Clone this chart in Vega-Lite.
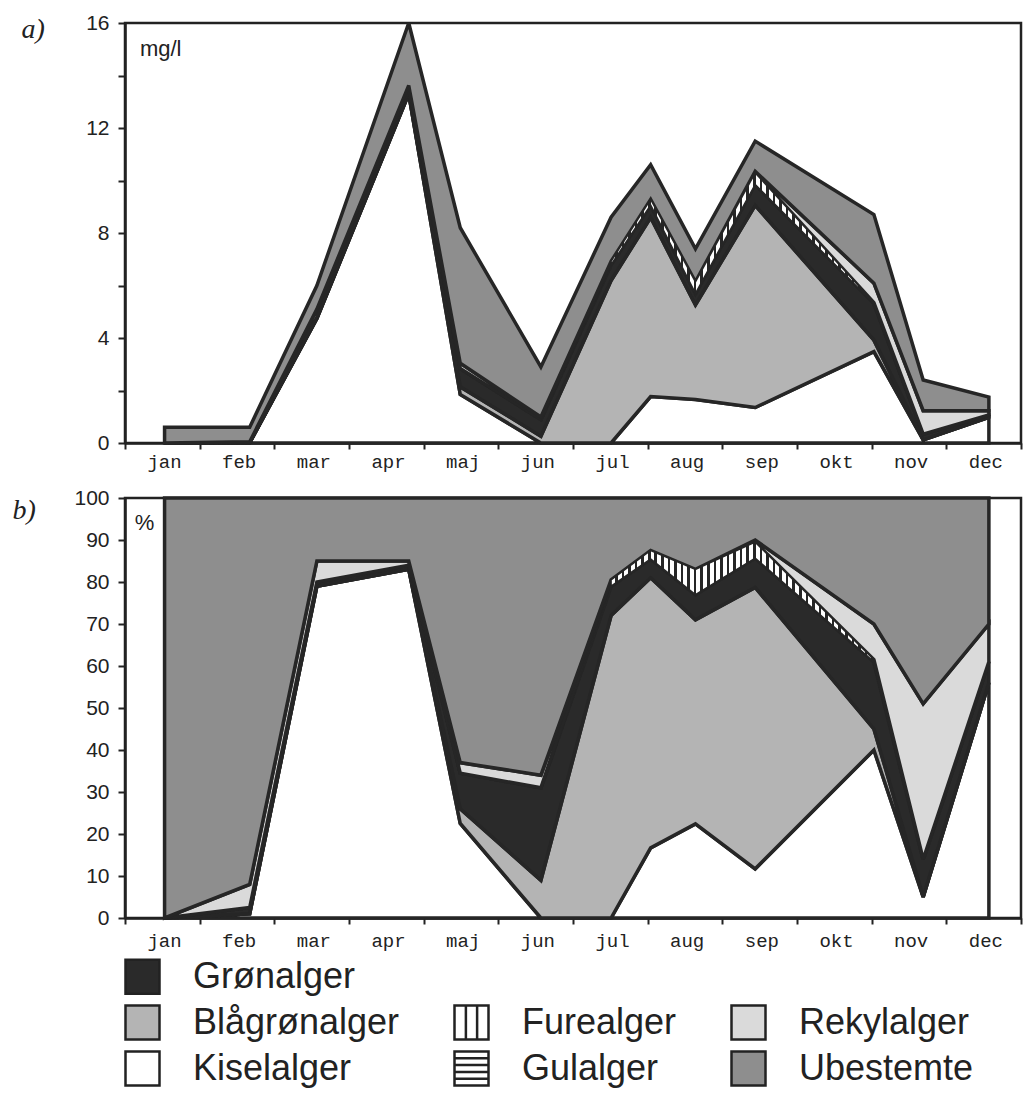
{
  "$schema": "https://vega.github.io/schema/vega-lite/v6.json",
  "background": "white",
  "padding": {"left": 10, "top": 10, "right": 0, "bottom": 0},
  "config": {
    "font": "Liberation Sans",
    "view": {"stroke": "#222222", "strokeWidth": 2.5},
    "axis": {
      "grid": false,
      "domainColor": "#222222",
      "domainWidth": 2.5,
      "tickColor": "#222222",
      "tickWidth": 2,
      "labelColor": "#222222"
    }
  },
  "datasets": {
    "algae": [
      {"panel": "a", "month": 0.53, "Kiselalger": 0, "Blågrønalger": 0, "Grønalger": 0, "Furealger": 0, "Rekylalger": 0, "Ubestemte": 0.6},
      {"panel": "a", "month": 1.67, "Kiselalger": 0.01, "Blågrønalger": 0, "Grønalger": 0.01, "Furealger": 0, "Rekylalger": 0.03, "Ubestemte": 0.55},
      {"panel": "a", "month": 2.57, "Kiselalger": 4.74, "Blågrønalger": 0, "Grønalger": 0.06, "Furealger": 0, "Rekylalger": 0.3, "Ubestemte": 0.9},
      {"panel": "a", "month": 3.8, "Kiselalger": 13.3, "Blågrønalger": 0, "Grønalger": 0.16, "Furealger": 0, "Rekylalger": 0.16, "Ubestemte": 2.38},
      {"panel": "a", "month": 4.49, "Kiselalger": 1.85, "Blågrønalger": 0.29, "Grønalger": 0.7, "Furealger": 0, "Rekylalger": 0.2, "Ubestemte": 5.16},
      {"panel": "a", "month": 5.57, "Kiselalger": 0, "Blågrønalger": 0.26, "Grønalger": 0.64, "Furealger": 0, "Rekylalger": 0.09, "Ubestemte": 1.91},
      {"panel": "a", "month": 6.51, "Kiselalger": 0, "Blågrønalger": 6.19, "Grønalger": 0.6, "Furealger": 0.13, "Rekylalger": 0, "Ubestemte": 1.68},
      {"panel": "a", "month": 7.04, "Kiselalger": 1.77, "Blågrønalger": 6.82, "Grønalger": 0.48, "Furealger": 0.21, "Rekylalger": 0, "Ubestemte": 1.32},
      {"panel": "a", "month": 7.64, "Kiselalger": 1.66, "Blågrønalger": 3.6, "Grønalger": 0.44, "Furealger": 0.44, "Rekylalger": 0, "Ubestemte": 1.26},
      {"panel": "a", "month": 8.44, "Kiselalger": 1.35, "Blågrønalger": 7.7, "Grønalger": 0.8, "Furealger": 0.44, "Rekylalger": 0.06, "Ubestemte": 1.15},
      {"panel": "a", "month": 10.03, "Kiselalger": 3.48, "Blågrønalger": 0.44, "Grønalger": 1.39, "Furealger": 0.04, "Rekylalger": 0.74, "Ubestemte": 2.61},
      {"panel": "a", "month": 10.69, "Kiselalger": 0.12, "Blågrønalger": 0, "Grønalger": 0.22, "Furealger": 0, "Rekylalger": 0.89, "Ubestemte": 1.17},
      {"panel": "a", "month": 11.57, "Kiselalger": 0.98, "Blågrønalger": 0, "Grønalger": 0.09, "Furealger": 0, "Rekylalger": 0.16, "Ubestemte": 0.52},
      {"panel": "b", "month": 0.53, "Kiselalger": 0, "Blågrønalger": 0, "Grønalger": 0, "Furealger": 0, "Rekylalger": 0, "Ubestemte": 100},
      {"panel": "b", "month": 1.67, "Kiselalger": 1, "Blågrønalger": 0, "Grønalger": 1.5, "Furealger": 0, "Rekylalger": 5.5, "Ubestemte": 92},
      {"panel": "b", "month": 2.57, "Kiselalger": 79, "Blågrønalger": 0, "Grønalger": 1, "Furealger": 0, "Rekylalger": 5, "Ubestemte": 15},
      {"panel": "b", "month": 3.8, "Kiselalger": 83, "Blågrønalger": 0, "Grønalger": 1, "Furealger": 0, "Rekylalger": 1, "Ubestemte": 15},
      {"panel": "b", "month": 4.49, "Kiselalger": 22.5, "Blågrønalger": 3.5, "Grønalger": 8.5, "Furealger": 0, "Rekylalger": 2.5, "Ubestemte": 63},
      {"panel": "b", "month": 5.57, "Kiselalger": 0, "Blågrønalger": 9, "Grønalger": 22, "Furealger": 0, "Rekylalger": 3, "Ubestemte": 66},
      {"panel": "b", "month": 6.51, "Kiselalger": 0, "Blågrønalger": 72, "Grønalger": 7, "Furealger": 1.5, "Rekylalger": 0, "Ubestemte": 19.5},
      {"panel": "b", "month": 7.04, "Kiselalger": 16.7, "Blågrønalger": 64.3, "Grønalger": 4.5, "Furealger": 2, "Rekylalger": 0, "Ubestemte": 12.5},
      {"panel": "b", "month": 7.64, "Kiselalger": 22.4, "Blågrønalger": 48.6, "Grønalger": 6, "Furealger": 6, "Rekylalger": 0, "Ubestemte": 17},
      {"panel": "b", "month": 8.44, "Kiselalger": 11.7, "Blågrønalger": 67, "Grønalger": 7, "Furealger": 3.8, "Rekylalger": 0.5, "Ubestemte": 10},
      {"panel": "b", "month": 10.03, "Kiselalger": 40, "Blågrønalger": 5, "Grønalger": 16, "Furealger": 0.5, "Rekylalger": 8.5, "Ubestemte": 30},
      {"panel": "b", "month": 10.69, "Kiselalger": 5, "Blågrønalger": 0, "Grønalger": 9, "Furealger": 0, "Rekylalger": 37, "Ubestemte": 49},
      {"panel": "b", "month": 11.57, "Kiselalger": 56, "Blågrønalger": 0, "Grønalger": 5, "Furealger": 0, "Rekylalger": 9, "Ubestemte": 30}
    ]
  },
  "bounds": "flush",
  "spacing": 55,
  "resolve": {"scale": {"fill": "independent", "x": "independent", "y": "independent"}, "legend": {"fill": "independent"}},
  "vconcat": [
    {
      "width": 896,
      "height": 420,
      "data": {"name": "algae"},
      "transform": [
        {"filter": "datum.panel === 'a'"},
        {"fold": ["Kiselalger", "Blågrønalger", "Grønalger", "Furealger", "Rekylalger", "Ubestemte"], "as": ["species", "value"]},
        {"calculate": "indexof(['Kiselalger','Blågrønalger','Grønalger','Gulalger','Furealger','Rekylalger','Ubestemte'], datum.species)", "as": "ord"},
        {"stack": "value", "groupby": ["month"], "sort": [{"field": "ord", "order": "ascending"}], "as": ["v0", "v1"]}
      ],
      "layer": [
        {
          "mark": {"type": "area", "stroke": "#262626", "strokeWidth": 3.5, "strokeJoin": "miter", "strokeMiterLimit": 3, "fillOpacity": 1},
          "encoding": {
            "x": {
              "field": "month", "type": "quantitative",
              "scale": {"domain": [0, 12], "nice": false, "zero": false},
              "axis": {
                "values": [0, 1, 2, 3, 4, 5, 6, 7, 8, 9, 10, 11, 12],
                "labelExpr": "['jan','feb','mar','apr','maj','jun','jul','aug','sep','okt','nov','dec',''][datum.value]",
                "labelOffset": 39, "labelFlush": false, "labelOverlap": false,
                "labelFont": "Liberation Mono", "labelFontSize": 19, "labelPadding": 3,
                "tickSize": 6, "title": null
              }
            },
            "y": {
              "field": "v1", "type": "quantitative", "stack": null,
              "scale": {"domain": [0, 16], "nice": false},
              "axis": {
                "values": [0, 1, 2, 3, 4, 5, 6, 7, 8, 9, 10, 11, 12, 13, 14, 15, 16],
                "labelExpr": "datum.value % 4 === 0 ? datum.label : ''",
                "labelFont": "Liberation Sans", "labelFontSize": 21, "labelPadding": 9,
                "tickSize": 7,
                "title": "a)", "titleAngle": 0, "titleAlign": "left", "titleBaseline": "middle",
                "titleX": -104, "titleY": 6, "titleFont": "Liberation Serif", "titleFontStyle": "italic",
                "titleFontWeight": "normal", "titleFontSize": 28, "titleColor": "#222222"
              }
            },
            "y2": {"field": "v0"},
            "fill": {
              "field": "species", "type": "nominal",
              "scale": {
                "domain": ["Grønalger", "Blågrønalger", "Kiselalger", " ", "Furealger", "Gulalger", "  ", "Rekylalger", "Ubestemte"],
                "range": ["#2a2a2a", "#b4b4b4", "#ffffff", "transparent", "#ffffff", "#ffffff", "transparent", "#dadada", "#8e8e8e"]
              },
              "legend": null
            }
          }
        },
        {
          "transform": [{"filter": "datum.species === 'Furealger' && datum.month > 6 && datum.month < 10.5"}],
          "mark": {
            "type": "area", "stroke": "#262626", "strokeWidth": 1.5,
            "fill": {"gradient": "linear", "x1": 0, "x2": 1, "y1": 0, "y2": 0, "stops": [
              {"offset": 0, "color": "#ffffff"},
              {"offset": 0.015, "color": "#ffffff"}, {"offset": 0.015, "color": "#262626"}, {"offset": 0.025, "color": "#262626"}, {"offset": 0.025, "color": "#ffffff"},
              {"offset": 0.04, "color": "#ffffff"}, {"offset": 0.04, "color": "#262626"}, {"offset": 0.05, "color": "#262626"}, {"offset": 0.05, "color": "#ffffff"},
              {"offset": 0.065, "color": "#ffffff"}, {"offset": 0.065, "color": "#262626"}, {"offset": 0.075, "color": "#262626"}, {"offset": 0.075, "color": "#ffffff"},
              {"offset": 0.09, "color": "#ffffff"}, {"offset": 0.09, "color": "#262626"}, {"offset": 0.1, "color": "#262626"}, {"offset": 0.1, "color": "#ffffff"},
              {"offset": 0.115, "color": "#ffffff"}, {"offset": 0.115, "color": "#262626"}, {"offset": 0.125, "color": "#262626"}, {"offset": 0.125, "color": "#ffffff"},
              {"offset": 0.14, "color": "#ffffff"}, {"offset": 0.14, "color": "#262626"}, {"offset": 0.15, "color": "#262626"}, {"offset": 0.15, "color": "#ffffff"},
              {"offset": 0.165, "color": "#ffffff"}, {"offset": 0.165, "color": "#262626"}, {"offset": 0.175, "color": "#262626"}, {"offset": 0.175, "color": "#ffffff"},
              {"offset": 0.19, "color": "#ffffff"}, {"offset": 0.19, "color": "#262626"}, {"offset": 0.2, "color": "#262626"}, {"offset": 0.2, "color": "#ffffff"},
              {"offset": 0.215, "color": "#ffffff"}, {"offset": 0.215, "color": "#262626"}, {"offset": 0.225, "color": "#262626"}, {"offset": 0.225, "color": "#ffffff"},
              {"offset": 0.24, "color": "#ffffff"}, {"offset": 0.24, "color": "#262626"}, {"offset": 0.25, "color": "#262626"}, {"offset": 0.25, "color": "#ffffff"},
              {"offset": 0.265, "color": "#ffffff"}, {"offset": 0.265, "color": "#262626"}, {"offset": 0.275, "color": "#262626"}, {"offset": 0.275, "color": "#ffffff"},
              {"offset": 0.29, "color": "#ffffff"}, {"offset": 0.29, "color": "#262626"}, {"offset": 0.3, "color": "#262626"}, {"offset": 0.3, "color": "#ffffff"},
              {"offset": 0.315, "color": "#ffffff"}, {"offset": 0.315, "color": "#262626"}, {"offset": 0.325, "color": "#262626"}, {"offset": 0.325, "color": "#ffffff"},
              {"offset": 0.34, "color": "#ffffff"}, {"offset": 0.34, "color": "#262626"}, {"offset": 0.35, "color": "#262626"}, {"offset": 0.35, "color": "#ffffff"},
              {"offset": 0.365, "color": "#ffffff"}, {"offset": 0.365, "color": "#262626"}, {"offset": 0.375, "color": "#262626"}, {"offset": 0.375, "color": "#ffffff"},
              {"offset": 0.39, "color": "#ffffff"}, {"offset": 0.39, "color": "#262626"}, {"offset": 0.4, "color": "#262626"}, {"offset": 0.4, "color": "#ffffff"},
              {"offset": 0.415, "color": "#ffffff"}, {"offset": 0.415, "color": "#262626"}, {"offset": 0.425, "color": "#262626"}, {"offset": 0.425, "color": "#ffffff"},
              {"offset": 0.44, "color": "#ffffff"}, {"offset": 0.44, "color": "#262626"}, {"offset": 0.45, "color": "#262626"}, {"offset": 0.45, "color": "#ffffff"},
              {"offset": 0.465, "color": "#ffffff"}, {"offset": 0.465, "color": "#262626"}, {"offset": 0.475, "color": "#262626"}, {"offset": 0.475, "color": "#ffffff"},
              {"offset": 0.49, "color": "#ffffff"}, {"offset": 0.49, "color": "#262626"}, {"offset": 0.5, "color": "#262626"}, {"offset": 0.5, "color": "#ffffff"},
              {"offset": 0.515, "color": "#ffffff"}, {"offset": 0.515, "color": "#262626"}, {"offset": 0.525, "color": "#262626"}, {"offset": 0.525, "color": "#ffffff"},
              {"offset": 0.54, "color": "#ffffff"}, {"offset": 0.54, "color": "#262626"}, {"offset": 0.55, "color": "#262626"}, {"offset": 0.55, "color": "#ffffff"},
              {"offset": 0.565, "color": "#ffffff"}, {"offset": 0.565, "color": "#262626"}, {"offset": 0.575, "color": "#262626"}, {"offset": 0.575, "color": "#ffffff"},
              {"offset": 0.59, "color": "#ffffff"}, {"offset": 0.59, "color": "#262626"}, {"offset": 0.6, "color": "#262626"}, {"offset": 0.6, "color": "#ffffff"},
              {"offset": 0.615, "color": "#ffffff"}, {"offset": 0.615, "color": "#262626"}, {"offset": 0.625, "color": "#262626"}, {"offset": 0.625, "color": "#ffffff"},
              {"offset": 0.64, "color": "#ffffff"}, {"offset": 0.64, "color": "#262626"}, {"offset": 0.65, "color": "#262626"}, {"offset": 0.65, "color": "#ffffff"},
              {"offset": 0.665, "color": "#ffffff"}, {"offset": 0.665, "color": "#262626"}, {"offset": 0.675, "color": "#262626"}, {"offset": 0.675, "color": "#ffffff"},
              {"offset": 0.69, "color": "#ffffff"}, {"offset": 0.69, "color": "#262626"}, {"offset": 0.7, "color": "#262626"}, {"offset": 0.7, "color": "#ffffff"},
              {"offset": 0.715, "color": "#ffffff"}, {"offset": 0.715, "color": "#262626"}, {"offset": 0.725, "color": "#262626"}, {"offset": 0.725, "color": "#ffffff"},
              {"offset": 0.74, "color": "#ffffff"}, {"offset": 0.74, "color": "#262626"}, {"offset": 0.75, "color": "#262626"}, {"offset": 0.75, "color": "#ffffff"},
              {"offset": 0.765, "color": "#ffffff"}, {"offset": 0.765, "color": "#262626"}, {"offset": 0.775, "color": "#262626"}, {"offset": 0.775, "color": "#ffffff"},
              {"offset": 0.79, "color": "#ffffff"}, {"offset": 0.79, "color": "#262626"}, {"offset": 0.8, "color": "#262626"}, {"offset": 0.8, "color": "#ffffff"},
              {"offset": 0.815, "color": "#ffffff"}, {"offset": 0.815, "color": "#262626"}, {"offset": 0.825, "color": "#262626"}, {"offset": 0.825, "color": "#ffffff"},
              {"offset": 0.84, "color": "#ffffff"}, {"offset": 0.84, "color": "#262626"}, {"offset": 0.85, "color": "#262626"}, {"offset": 0.85, "color": "#ffffff"},
              {"offset": 0.865, "color": "#ffffff"}, {"offset": 0.865, "color": "#262626"}, {"offset": 0.875, "color": "#262626"}, {"offset": 0.875, "color": "#ffffff"},
              {"offset": 0.89, "color": "#ffffff"}, {"offset": 0.89, "color": "#262626"}, {"offset": 0.9, "color": "#262626"}, {"offset": 0.9, "color": "#ffffff"},
              {"offset": 0.915, "color": "#ffffff"}, {"offset": 0.915, "color": "#262626"}, {"offset": 0.925, "color": "#262626"}, {"offset": 0.925, "color": "#ffffff"},
              {"offset": 0.94, "color": "#ffffff"}, {"offset": 0.94, "color": "#262626"}, {"offset": 0.95, "color": "#262626"}, {"offset": 0.95, "color": "#ffffff"},
              {"offset": 0.965, "color": "#ffffff"}, {"offset": 0.965, "color": "#262626"}, {"offset": 0.975, "color": "#262626"}, {"offset": 0.975, "color": "#ffffff"},
              {"offset": 0.99, "color": "#ffffff"}, {"offset": 0.99, "color": "#262626"}, {"offset": 1, "color": "#262626"}
            ]}
          },
          "encoding": {
            "x": {"field": "month", "type": "quantitative"},
            "y": {"field": "v1", "type": "quantitative", "stack": null},
            "y2": {"field": "v0"}
          }
        },
        {
          "data": {"values": [{}]},
          "transform": [],
          "mark": {"type": "text", "align": "left", "baseline": "middle", "font": "Liberation Sans", "fontSize": 22, "color": "#222222"},
          "encoding": {
            "x": {"datum": 0.2, "type": "quantitative"},
            "y": {"datum": 15, "type": "quantitative"},
            "text": {"value": "mg/l"}
          }
        }
      ]
    },
    {
      "width": 896,
      "height": 420,
      "data": {"name": "algae"},
      "transform": [
        {"filter": "datum.panel === 'b'"},
        {"fold": ["Kiselalger", "Blågrønalger", "Grønalger", "Furealger", "Rekylalger", "Ubestemte"], "as": ["species", "value"]},
        {"calculate": "indexof(['Kiselalger','Blågrønalger','Grønalger','Gulalger','Furealger','Rekylalger','Ubestemte'], datum.species)", "as": "ord"},
        {"stack": "value", "groupby": ["month"], "sort": [{"field": "ord", "order": "ascending"}], "as": ["v0", "v1"]}
      ],
      "layer": [
        {
          "mark": {"type": "area", "stroke": "#262626", "strokeWidth": 3.5, "strokeJoin": "miter", "strokeMiterLimit": 3, "fillOpacity": 1},
          "encoding": {
            "x": {
              "field": "month", "type": "quantitative",
              "scale": {"domain": [0, 12], "nice": false, "zero": false},
              "axis": {
                "values": [0, 1, 2, 3, 4, 5, 6, 7, 8, 9, 10, 11, 12],
                "labelExpr": "['jan','feb','mar','apr','maj','jun','jul','aug','sep','okt','nov','dec',''][datum.value]",
                "labelOffset": 39, "labelFlush": false, "labelOverlap": false,
                "labelFont": "Liberation Mono", "labelFontSize": 19, "labelPadding": 7,
                "tickSize": 6, "title": null
              }
            },
            "y": {
              "field": "v1", "type": "quantitative", "stack": null,
              "scale": {"domain": [0, 100], "nice": false},
              "axis": {
                "values": [0, 5, 10, 15, 20, 25, 30, 35, 40, 45, 50, 55, 60, 65, 70, 75, 80, 85, 90, 95, 100],
                "labelExpr": "datum.value % 10 === 0 ? datum.label : ''",
                "labelFont": "Liberation Sans", "labelFontSize": 21, "labelPadding": 9,
                "tickSize": 7,
                "title": "b)", "titleAngle": 0, "titleAlign": "left", "titleBaseline": "middle",
                "titleX": -113, "titleY": 12, "titleFont": "Liberation Serif", "titleFontStyle": "italic",
                "titleFontWeight": "normal", "titleFontSize": 28, "titleColor": "#222222"
              }
            },
            "y2": {"field": "v0"},
            "fill": {
              "field": "species", "type": "nominal",
              "scale": {
                "domain": ["Grønalger", "Blågrønalger", "Kiselalger", " ", "Furealger", "Gulalger", "  ", "Rekylalger", "Ubestemte"],
                "range": ["#2a2a2a", "#b4b4b4", "#ffffff", "transparent", "#ffffff", "#ffffff", "transparent", "#dadada", "#8e8e8e"]
              },
              "legend": {
                "orient": "none", "legendX": -1, "legendY": 460, "title": null,
                "columns": 3, "symbolType": "square", "symbolSize": 1156,
                "symbolStrokeColor": "#222222", "symbolStrokeWidth": 2.5, "symbolOpacity": 1,
                "labelFont": "Liberation Sans", "labelFontSize": 36, "labelColor": "#222222",
                "labelOffset": 32, "labelLimit": 500, "rowPadding": 1, "columnPadding": 49,
                "encode": {
                  "symbols": {
                    "update": {
                      "shape": {"signal": "datum.value === 'Furealger' ? 'M-1,-1H1V1H-1Z M-0.33,-1V1 M0.33,-1V1' : datum.value === 'Gulalger' ? 'M-1,-1H1V1H-1Z M-1,-0.6H1 M-1,-0.2H1 M-1,0.2H1 M-1,0.6H1' : 'square'"},
                      "opacity": {"signal": "trim(datum.value) === '' ? 0 : 1"}
                    }
                  }
                }
              }
            }
          }
        },
        {
          "transform": [{"filter": "datum.species === 'Furealger' && datum.month > 6 && datum.month < 10.5"}],
          "mark": {
            "type": "area", "stroke": "#262626", "strokeWidth": 1.5,
            "fill": {"gradient": "linear", "x1": 0, "x2": 1, "y1": 0, "y2": 0, "stops": [
              {"offset": 0, "color": "#ffffff"},
              {"offset": 0.015, "color": "#ffffff"}, {"offset": 0.015, "color": "#262626"}, {"offset": 0.025, "color": "#262626"}, {"offset": 0.025, "color": "#ffffff"},
              {"offset": 0.04, "color": "#ffffff"}, {"offset": 0.04, "color": "#262626"}, {"offset": 0.05, "color": "#262626"}, {"offset": 0.05, "color": "#ffffff"},
              {"offset": 0.065, "color": "#ffffff"}, {"offset": 0.065, "color": "#262626"}, {"offset": 0.075, "color": "#262626"}, {"offset": 0.075, "color": "#ffffff"},
              {"offset": 0.09, "color": "#ffffff"}, {"offset": 0.09, "color": "#262626"}, {"offset": 0.1, "color": "#262626"}, {"offset": 0.1, "color": "#ffffff"},
              {"offset": 0.115, "color": "#ffffff"}, {"offset": 0.115, "color": "#262626"}, {"offset": 0.125, "color": "#262626"}, {"offset": 0.125, "color": "#ffffff"},
              {"offset": 0.14, "color": "#ffffff"}, {"offset": 0.14, "color": "#262626"}, {"offset": 0.15, "color": "#262626"}, {"offset": 0.15, "color": "#ffffff"},
              {"offset": 0.165, "color": "#ffffff"}, {"offset": 0.165, "color": "#262626"}, {"offset": 0.175, "color": "#262626"}, {"offset": 0.175, "color": "#ffffff"},
              {"offset": 0.19, "color": "#ffffff"}, {"offset": 0.19, "color": "#262626"}, {"offset": 0.2, "color": "#262626"}, {"offset": 0.2, "color": "#ffffff"},
              {"offset": 0.215, "color": "#ffffff"}, {"offset": 0.215, "color": "#262626"}, {"offset": 0.225, "color": "#262626"}, {"offset": 0.225, "color": "#ffffff"},
              {"offset": 0.24, "color": "#ffffff"}, {"offset": 0.24, "color": "#262626"}, {"offset": 0.25, "color": "#262626"}, {"offset": 0.25, "color": "#ffffff"},
              {"offset": 0.265, "color": "#ffffff"}, {"offset": 0.265, "color": "#262626"}, {"offset": 0.275, "color": "#262626"}, {"offset": 0.275, "color": "#ffffff"},
              {"offset": 0.29, "color": "#ffffff"}, {"offset": 0.29, "color": "#262626"}, {"offset": 0.3, "color": "#262626"}, {"offset": 0.3, "color": "#ffffff"},
              {"offset": 0.315, "color": "#ffffff"}, {"offset": 0.315, "color": "#262626"}, {"offset": 0.325, "color": "#262626"}, {"offset": 0.325, "color": "#ffffff"},
              {"offset": 0.34, "color": "#ffffff"}, {"offset": 0.34, "color": "#262626"}, {"offset": 0.35, "color": "#262626"}, {"offset": 0.35, "color": "#ffffff"},
              {"offset": 0.365, "color": "#ffffff"}, {"offset": 0.365, "color": "#262626"}, {"offset": 0.375, "color": "#262626"}, {"offset": 0.375, "color": "#ffffff"},
              {"offset": 0.39, "color": "#ffffff"}, {"offset": 0.39, "color": "#262626"}, {"offset": 0.4, "color": "#262626"}, {"offset": 0.4, "color": "#ffffff"},
              {"offset": 0.415, "color": "#ffffff"}, {"offset": 0.415, "color": "#262626"}, {"offset": 0.425, "color": "#262626"}, {"offset": 0.425, "color": "#ffffff"},
              {"offset": 0.44, "color": "#ffffff"}, {"offset": 0.44, "color": "#262626"}, {"offset": 0.45, "color": "#262626"}, {"offset": 0.45, "color": "#ffffff"},
              {"offset": 0.465, "color": "#ffffff"}, {"offset": 0.465, "color": "#262626"}, {"offset": 0.475, "color": "#262626"}, {"offset": 0.475, "color": "#ffffff"},
              {"offset": 0.49, "color": "#ffffff"}, {"offset": 0.49, "color": "#262626"}, {"offset": 0.5, "color": "#262626"}, {"offset": 0.5, "color": "#ffffff"},
              {"offset": 0.515, "color": "#ffffff"}, {"offset": 0.515, "color": "#262626"}, {"offset": 0.525, "color": "#262626"}, {"offset": 0.525, "color": "#ffffff"},
              {"offset": 0.54, "color": "#ffffff"}, {"offset": 0.54, "color": "#262626"}, {"offset": 0.55, "color": "#262626"}, {"offset": 0.55, "color": "#ffffff"},
              {"offset": 0.565, "color": "#ffffff"}, {"offset": 0.565, "color": "#262626"}, {"offset": 0.575, "color": "#262626"}, {"offset": 0.575, "color": "#ffffff"},
              {"offset": 0.59, "color": "#ffffff"}, {"offset": 0.59, "color": "#262626"}, {"offset": 0.6, "color": "#262626"}, {"offset": 0.6, "color": "#ffffff"},
              {"offset": 0.615, "color": "#ffffff"}, {"offset": 0.615, "color": "#262626"}, {"offset": 0.625, "color": "#262626"}, {"offset": 0.625, "color": "#ffffff"},
              {"offset": 0.64, "color": "#ffffff"}, {"offset": 0.64, "color": "#262626"}, {"offset": 0.65, "color": "#262626"}, {"offset": 0.65, "color": "#ffffff"},
              {"offset": 0.665, "color": "#ffffff"}, {"offset": 0.665, "color": "#262626"}, {"offset": 0.675, "color": "#262626"}, {"offset": 0.675, "color": "#ffffff"},
              {"offset": 0.69, "color": "#ffffff"}, {"offset": 0.69, "color": "#262626"}, {"offset": 0.7, "color": "#262626"}, {"offset": 0.7, "color": "#ffffff"},
              {"offset": 0.715, "color": "#ffffff"}, {"offset": 0.715, "color": "#262626"}, {"offset": 0.725, "color": "#262626"}, {"offset": 0.725, "color": "#ffffff"},
              {"offset": 0.74, "color": "#ffffff"}, {"offset": 0.74, "color": "#262626"}, {"offset": 0.75, "color": "#262626"}, {"offset": 0.75, "color": "#ffffff"},
              {"offset": 0.765, "color": "#ffffff"}, {"offset": 0.765, "color": "#262626"}, {"offset": 0.775, "color": "#262626"}, {"offset": 0.775, "color": "#ffffff"},
              {"offset": 0.79, "color": "#ffffff"}, {"offset": 0.79, "color": "#262626"}, {"offset": 0.8, "color": "#262626"}, {"offset": 0.8, "color": "#ffffff"},
              {"offset": 0.815, "color": "#ffffff"}, {"offset": 0.815, "color": "#262626"}, {"offset": 0.825, "color": "#262626"}, {"offset": 0.825, "color": "#ffffff"},
              {"offset": 0.84, "color": "#ffffff"}, {"offset": 0.84, "color": "#262626"}, {"offset": 0.85, "color": "#262626"}, {"offset": 0.85, "color": "#ffffff"},
              {"offset": 0.865, "color": "#ffffff"}, {"offset": 0.865, "color": "#262626"}, {"offset": 0.875, "color": "#262626"}, {"offset": 0.875, "color": "#ffffff"},
              {"offset": 0.89, "color": "#ffffff"}, {"offset": 0.89, "color": "#262626"}, {"offset": 0.9, "color": "#262626"}, {"offset": 0.9, "color": "#ffffff"},
              {"offset": 0.915, "color": "#ffffff"}, {"offset": 0.915, "color": "#262626"}, {"offset": 0.925, "color": "#262626"}, {"offset": 0.925, "color": "#ffffff"},
              {"offset": 0.94, "color": "#ffffff"}, {"offset": 0.94, "color": "#262626"}, {"offset": 0.95, "color": "#262626"}, {"offset": 0.95, "color": "#ffffff"},
              {"offset": 0.965, "color": "#ffffff"}, {"offset": 0.965, "color": "#262626"}, {"offset": 0.975, "color": "#262626"}, {"offset": 0.975, "color": "#ffffff"},
              {"offset": 0.99, "color": "#ffffff"}, {"offset": 0.99, "color": "#262626"}, {"offset": 1, "color": "#262626"}
            ]}
          },
          "encoding": {
            "x": {"field": "month", "type": "quantitative"},
            "y": {"field": "v1", "type": "quantitative", "stack": null},
            "y2": {"field": "v0"}
          }
        },
        {
          "data": {"values": [{}]},
          "transform": [],
          "mark": {"type": "text", "align": "left", "baseline": "middle", "font": "Liberation Sans", "fontSize": 22, "color": "#222222"},
          "encoding": {
            "x": {"datum": 0.13, "type": "quantitative"},
            "y": {"datum": 94, "type": "quantitative"},
            "text": {"value": "%"}
          }
        }
      ]
    }
  ]
}
